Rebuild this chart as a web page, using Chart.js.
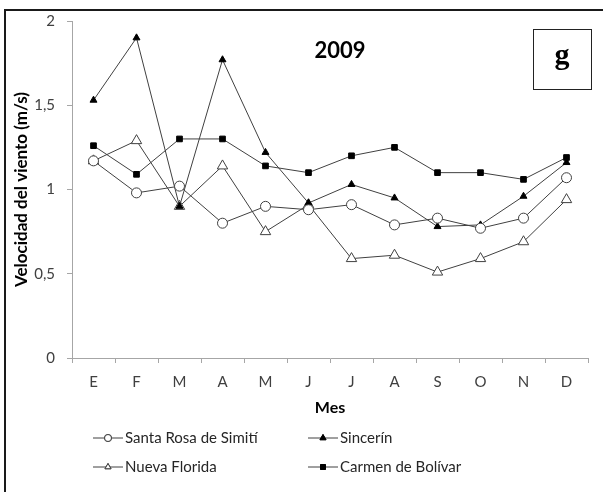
<!DOCTYPE html>
<html>
<head>
<meta charset="utf-8">
<script src="https://cdn.jsdelivr.net/npm/chart.js@4.4.1/dist/chart.umd.min.js"></script>
<style>
    html, body { margin: 0; padding: 0; background: #ffffff; }
    #wrap { position: relative; width: 603px; height: 492px; }
</style>
</head>
<body>
<div id="wrap"><canvas id="windChart" width="603" height="492"></canvas></div>
<script>
// Monthly mean wind speed, 2009 (m/s)
const months = ['E', 'F', 'M', 'A', 'M', 'J', 'J', 'A', 'S', 'O', 'N', 'D'];
const santaRosa = [1.17, 0.98, 1.02, 0.80, 0.90, 0.88, 0.91, 0.79, 0.83, 0.77, 0.83, 1.07];
const sincerin = [1.53, 1.90, 0.90, 1.77, 1.22, 0.92, 1.03, 0.95, 0.78, 0.79, 0.96, 1.16];
const nuevaFlorida = [1.17, 1.29, 0.90, 1.14, 0.75, 0.91, 0.59, 0.61, 0.51, 0.59, 0.69, 0.94];
const carmen = [1.26, 1.09, 1.30, 1.30, 1.14, 1.10, 1.20, 1.25, 1.10, 1.10, 1.06, 1.19];
const yTicks = [0, 0.5, 1, 1.5, 2];

const LINE = '#404040';
const FONT = 'Lato, "Open Sans", sans-serif';

function series(label, data, style, filled, radius) {
    return {
        label: label,
        data: data,
        borderColor: LINE,
        borderWidth: 1,
        pointStyle: style,
        pointRadius: radius,
        pointBorderWidth: 1,
        pointBorderColor: filled ? '#000000' : LINE,
        pointBackgroundColor: filled ? '#000000' : '#ffffff',
        tension: 0,
        fill: false
    };
}

// Frame, year label, panel letter and the two-column legend
const decorations = {
    id: 'decorations',
    afterDraw(chart) {
        const ctx = chart.ctx;
        ctx.save();

        // outer frame (left + top only, picture is cropped)
        ctx.strokeStyle = '#1a1a1a';
        ctx.lineWidth = 2;
        ctx.beginPath();
        ctx.moveTo(5, 492);
        ctx.lineTo(5, 10);
        ctx.lineTo(603, 10);
        ctx.stroke();

        // year
        ctx.fillStyle = '#000000';
        ctx.font = 'bold 22px ' + FONT;
        ctx.textAlign = 'center';
        ctx.textBaseline = 'middle';
        ctx.fillText('2009', 340, 51);

        // panel letter
        ctx.lineWidth = 1;
        ctx.strokeStyle = '#222222';
        ctx.strokeRect(533.5, 29.5, 58, 60);
        ctx.font = 'bold 30px "Liberation Serif", serif';
        ctx.fillText('g', 562, 56);

        // legend
        const cols = [93, 308];
        const rows = [438, 467];
        ctx.font = '15px ' + FONT;
        ctx.textAlign = 'left';
        chart.data.datasets.forEach((ds, i) => {
            const x = cols[i % 2];
            const y = rows[Math.floor(i / 2)];
            ctx.strokeStyle = LINE;
            ctx.lineWidth = 1;
            ctx.beginPath();
            ctx.moveTo(x, y);
            ctx.lineTo(x + 30, y);
            ctx.stroke();
            Chart.helpers.drawPoint(ctx, {
                pointStyle: ds.pointStyle,
                radius: 3.5,
                rotation: 0,
                borderWidth: 1
            }, x + 15, y);
            ctx.fillStyle = ds.pointBackgroundColor;
            ctx.strokeStyle = ds.pointBorderColor;
            ctx.fill();
            ctx.stroke();
            ctx.fillStyle = '#262626';
            ctx.fillText(ds.label, x + 32, y);
        });
        ctx.restore();
    }
};

const ctx = document.getElementById('windChart').getContext('2d');
new Chart(ctx, {
    type: 'line',
    data: {
        labels: months,
        datasets: [
            series('Santa Rosa de Simití', santaRosa, 'circle', false, 5),
            series('Sincerín', sincerin, 'triangle', true, 4),
            series('Nueva Florida', nuevaFlorida, 'triangle', false, 6),
            series('Carmen de Bolívar', carmen, 'rect', true, 4)
        ]
    },
    options: {
        responsive: false,
        animation: false,
        layout: {
            padding: { top: 21, right: 15, bottom: 74, left: 0 }
        },
        plugins: {
            legend: { display: false },
            tooltip: { enabled: false }
        },
        scales: {
            x: {
                offset: true,
                grid: {
                    offset: true,
                    drawOnChartArea: false,
                    drawTicks: true,
                    tickLength: 5,
                    color: '#a6a6a6'
                },
                border: { color: '#a6a6a6', width: 1 },
                ticks: {
                    color: '#404040',
                    font: { family: FONT, size: 15 },
                    padding: 10,
                    maxRotation: 0,
                    autoSkip: false
                },
                title: {
                    display: true,
                    text: 'Mes',
                    color: '#000000',
                    font: { family: FONT, size: 16, weight: 'bold' },
                    padding: { top: 0, bottom: 1 }
                },
                afterFit(scale) { scale.height = 60; }
            },
            y: {
                min: 0,
                max: 2,
                afterBuildTicks(scale) {
                    scale.ticks = yTicks.map(v => ({ value: v }));
                },
                grid: {
                    drawOnChartArea: false,
                    drawTicks: true,
                    tickLength: 5,
                    color: '#a6a6a6'
                },
                border: { color: '#a6a6a6', width: 1 },
                ticks: {
                    color: '#404040',
                    font: { family: FONT, size: 15 },
                    padding: 12,
                    callback: v => String(v).replace('.', ',')
                },
                title: {
                    display: true,
                    text: 'Velocidad del viento (m/s)',
                    color: '#000000',
                    font: { family: FONT, size: 17, weight: 'bold' },
                    padding: { top: 11, bottom: 0 }
                },
                afterFit(scale) { scale.width = 72; }
            }
        }
    },
    plugins: [decorations]
});
</script>
</body>
</html>
